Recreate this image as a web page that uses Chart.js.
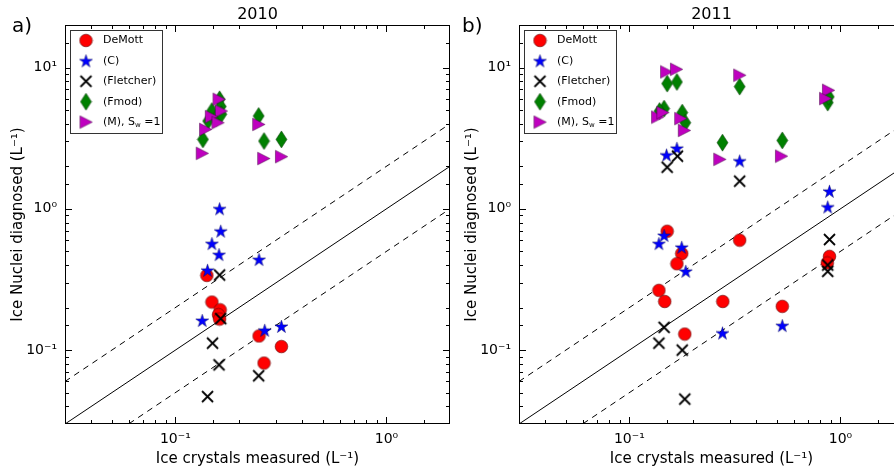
<!DOCTYPE html>
<html lang="en">
<head>
<meta charset="UTF-8">
<title>Ice Nuclei diagnosed vs Ice crystals measured</title>
<script src="https://cdn.jsdelivr.net/npm/chart.js"></script>
<style>
  html, body { margin:0; padding:0; overflow:hidden; background:#fff; width:894px; height:471px; }
  .panel { position:absolute; top:0; width:460px; height:471px; }
  #panelA { left:0; }
  #panelB { left:454px; }
</style>
</head>
<body>
<div class="panel" id="panelA"><canvas id="chartA" width="460" height="471"></canvas></div>
<div class="panel" id="panelB"><canvas id="chartB" width="460" height="471"></canvas></div>
<script>
// ---- data (L^-1) ----
const seriesLabels = ['DeMott', '(C)', '(Fletcher)', '(Fmod)', '(M), S_w =1'];

// 2010
const demottA_x = [0.141, 0.149, 0.163, 0.160, 0.162, 0.249, 0.318, 0.263];
const demottA_y = [0.338, 0.219, 0.193, 0.178, 0.166, 0.126, 0.106, 0.081];
const cA_x = [0.162, 0.164, 0.149, 0.161, 0.249, 0.142, 0.134, 0.265, 0.318];
const cA_y = [1.00, 0.694, 0.567, 0.474, 0.437, 0.367, 0.162, 0.138, 0.147];
const fletA_x = [0.162, 0.164, 0.150, 0.161, 0.248, 0.142];
const fletA_y = [0.340, 0.167, 0.112, 0.0787, 0.0658, 0.0469];
const fmodA_x = [0.135, 0.143, 0.149, 0.156, 0.162, 0.164, 0.165, 0.248, 0.263, 0.318];
const fmodA_y = [3.10, 4.18, 4.92, 4.40, 5.96, 5.30, 4.67, 4.54, 3.02, 3.10];
const mA_x = [0.161, 0.165, 0.148, 0.159, 0.139, 0.134, 0.248, 0.262, 0.318];
const mA_y = [5.96, 4.92, 4.49, 4.07, 3.65, 2.47, 3.96, 2.27, 2.34];

// 2011
const demottB_x = [0.151, 0.177, 0.168, 0.138, 0.147, 0.277, 0.333, 0.530, 0.887, 0.866, 0.183];
const demottB_y = [0.694, 0.482, 0.409, 0.265, 0.221, 0.221, 0.600, 0.204, 0.461, 0.414, 0.130];
const cB_x = [0.150, 0.168, 0.333, 0.887, 0.870, 0.146, 0.138, 0.177, 0.185, 0.530, 0.276];
const cB_y = [2.40, 2.68, 2.18, 1.33, 1.03, 0.647, 0.567, 0.534, 0.361, 0.149, 0.132];
const fletB_x = [0.151, 0.169, 0.333, 0.887, 0.870, 0.870, 0.146, 0.138, 0.178, 0.183];
const fletB_y = [1.97, 2.36, 1.57, 0.606, 0.361, 0.40, 0.145, 0.112, 0.100, 0.045];
const fmodB_x = [0.151, 0.168, 0.146, 0.139, 0.178, 0.184, 0.333, 0.276, 0.530, 0.870, 0.880];
const fmodB_y = [7.70, 7.90, 5.12, 4.92, 4.80, 4.07, 7.33, 2.94, 3.05, 5.65, 6.20];
const mB_x = [0.150, 0.167, 0.136, 0.144, 0.175, 0.182, 0.333, 0.268, 0.525, 0.877, 0.850];
const mB_y = [9.31, 9.72, 4.46, 4.80, 4.35, 3.59, 8.82, 2.24, 2.36, 6.90, 6.03];

// reference lines y = r * x, drawn across the axis range
const axisMin = 0.03, xMax = 2, yMax = 20;
const lineX = [axisMin, xMax];
const ratios = [1, 2, 0.5];

const FONT = "'DejaVu Sans', sans-serif";

// ---- marker images (matplotlib-like) ----
function marker(w, h, draw) {
  const c = document.createElement('canvas');
  c.width = w; c.height = h;
  draw(c.getContext('2d'), w, h);
  return c;
}
const mkCircle = marker(15, 15, (g) => {
  g.beginPath(); g.arc(7.5, 7.5, 6.3, 0, Math.PI * 2);
  g.fillStyle = '#ff0000'; g.fill();
  g.lineWidth = 0.6; g.strokeStyle = '#5a0000'; g.stroke();
});
const mkStar = marker(15, 15, (g) => {
  g.beginPath();
  for (let i = 0; i < 10; i++) {
    const r = i % 2 ? 2.6 : 6.8;
    const a = -Math.PI / 2 + i * Math.PI / 5;
    g.lineTo(7.5 + r * Math.cos(a), 8 + r * Math.sin(a));
  }
  g.closePath();
  g.fillStyle = '#0000ff'; g.fill();
  g.lineWidth = 0.5; g.strokeStyle = '#000060'; g.stroke();
});
const mkCross = marker(15, 15, (g) => {
  g.beginPath();
  g.moveTo(2, 2); g.lineTo(13, 13);
  g.moveTo(13, 2); g.lineTo(2, 13);
  g.lineWidth = 1.8; g.strokeStyle = '#000'; g.stroke();
});
const mkDiamond = marker(13, 19, (g) => {
  g.beginPath();
  g.moveTo(6.5, 1); g.lineTo(12, 9.5); g.lineTo(6.5, 18); g.lineTo(1, 9.5);
  g.closePath();
  g.fillStyle = '#008000'; g.fill();
  g.lineWidth = 0.5; g.strokeStyle = '#003000'; g.stroke();
});
const mkTriangle = marker(15, 15, (g) => {
  g.beginPath();
  g.moveTo(1.5, 1.2); g.lineTo(13.8, 7.5); g.lineTo(1.5, 13.8);
  g.closePath();
  g.fillStyle = '#bf00bf'; g.fill();
  g.lineWidth = 0.5; g.strokeStyle = '#400040'; g.stroke();
});
const markers = [mkCircle, mkStar, mkCross, mkDiamond, mkTriangle];

// ---- helpers ----
const supMap = { '-': '\u207B', '0': '\u2070', '1': '\u00B9', '2': '\u00B2', '3': '\u00B3' };
function tickLabel(v) {
  const e = Math.log10(v), r = Math.round(e);
  if (Math.abs(e - r) > 1e-6) return '';
  return '10' + String(r).split('').map(c => supMap[c]).join('');
}

function pts(xs, ys) { return xs.map((x, i) => ({ x, y: ys[i] })); }

function buildDatasets(groups) {
  const sets = ratios.map(r => ({
    label: 'ratio ' + r,
    data: lineX.map(x => ({ x, y: x * r })),
    showLine: true,
    borderColor: '#000',
    borderWidth: 1,
    borderDash: r === 1 ? [] : [6, 5],
    pointRadius: 0,
    order: 10
  }));
  groups.forEach(([xs, ys], i) => {
    sets.push({
      label: seriesLabels[i],
      data: pts(xs, ys),
      pointStyle: markers[i],
      pointRadius: 6,
      pointHoverRadius: 6,
      showLine: false,
      order: 5 - i,
      isMarker: true
    });
  });
  return sets;
}

// frame, inward ticks, title, panel letter, legend box
const decor = {
  id: 'decor',
  afterDraw(chart, args, o) {
    const { ctx, chartArea: a, scales } = chart;
    ctx.save();
    ctx.strokeStyle = '#000';
    ctx.lineWidth = 1;
    ctx.strokeRect(Math.round(a.left) + 0.5, Math.round(a.top) + 0.5,
      Math.round(a.right - a.left) - 1, Math.round(a.bottom - a.top) - 1);

    const isMajor = v => Math.abs(Math.log10(v) - Math.round(Math.log10(v))) < 1e-6;
    ctx.beginPath();
    scales.x.ticks.forEach(t => {
      const p = Math.round(scales.x.getPixelForValue(t.value)) + 0.5;
      if (p < a.left + 1 || p > a.right - 1) return;
      const len = isMajor(t.value) ? 7 : 4;
      ctx.moveTo(p, a.bottom); ctx.lineTo(p, a.bottom - len);
      ctx.moveTo(p, a.top); ctx.lineTo(p, a.top + len);
    });
    scales.y.ticks.forEach(t => {
      const p = Math.round(scales.y.getPixelForValue(t.value)) + 0.5;
      if (p < a.top + 1 || p > a.bottom - 1) return;
      const len = isMajor(t.value) ? 7 : 4;
      ctx.moveTo(a.left, p); ctx.lineTo(a.left + len, p);
      ctx.moveTo(a.right, p); ctx.lineTo(a.right - len, p);
    });
    ctx.stroke();

    ctx.fillStyle = '#000';
    ctx.textBaseline = 'middle';
    ctx.textAlign = 'center';
    ctx.font = '16px ' + FONT;
    ctx.fillText(o.title, (a.left + a.right) / 2, 15);
    ctx.textAlign = 'left';
    ctx.font = '20px ' + FONT;
    ctx.fillText(o.letter, o.letterX, 27);

    // legend
    const bx = a.left + 5, by = a.top + 5, bw = 92, bh = 103;
    ctx.fillStyle = '#fff';
    ctx.fillRect(bx, by, bw, bh);
    ctx.strokeStyle = '#333';
    ctx.strokeRect(bx + 0.5, by + 0.5, bw, bh);
    ctx.font = '11px ' + FONT;
    ctx.fillStyle = '#000';
    chart.data.datasets.filter(d => d.isMarker).forEach((d, i) => {
      const cy = by + 10.5 + i * 20.4;
      const img = d.pointStyle;
      ctx.drawImage(img, bx + 16 - img.width / 2, cy - img.height / 2);
      const tx = bx + 33;
      if (d.label.indexOf('S_w') >= 0) {
        const parts = d.label.split('S_w');
        ctx.fillText(parts[0] + 'S', tx, cy);
        let x2 = tx + ctx.measureText(parts[0] + 'S').width;
        ctx.font = '7px ' + FONT;
        ctx.fillText('w', x2, cy + 3);
        x2 += ctx.measureText('w').width;
        ctx.font = '11px ' + FONT;
        ctx.fillText(parts[1], x2, cy);
      } else {
        ctx.fillText(d.label, tx, cy);
      }
    });
    ctx.restore();
  }
};

function makeChart(id, groups, title, letter, letterX) {
  return new Chart(document.getElementById(id), {
    type: 'scatter',
    data: { datasets: buildDatasets(groups) },
    plugins: [decor],
    options: {
      responsive: false,
      animation: false,
      layout: { padding: { top: 25, right: 10, left: 0, bottom: 0 } },
      scales: {
        x: {
          type: 'logarithmic',
          min: axisMin, max: xMax,
          afterFit: s => { s.height = 47; },
          grid: { display: false, drawTicks: false },
          border: { display: false },
          ticks: {
            autoSkip: false, maxRotation: 0, padding: 7,
            color: '#000', font: { family: FONT, size: 14 },
            callback: v => tickLabel(v)
          },
          title: {
            display: true, text: 'Ice crystals measured (L\u207B\u00B9)',
            color: '#000', font: { family: FONT, size: 15 },
            padding: { top: 0, bottom: 3 }
          }
        },
        y: {
          type: 'logarithmic',
          min: axisMin, max: yMax,
          afterFit: s => { s.width = 65; },
          grid: { display: false, drawTicks: false },
          border: { display: false },
          ticks: {
            autoSkip: false, padding: 8,
            color: '#000', font: { family: FONT, size: 14 },
            callback: v => tickLabel(v)
          },
          title: {
            display: true, text: 'Ice Nuclei diagnosed (L\u207B\u00B9)',
            color: '#000', font: { family: FONT, size: 15 },
            padding: { top: 9, bottom: 0 }
          }
        }
      },
      plugins: {
        legend: { display: false },
        tooltip: { enabled: false },
        decor: { title, letter, letterX }
      }
    }
  });
}

makeChart('chartA', [
  [demottA_x, demottA_y], [cA_x, cA_y], [fletA_x, fletA_y], [fmodA_x, fmodA_y], [mA_x, mA_y]
], '2010', 'a)', 12);

makeChart('chartB', [
  [demottB_x, demottB_y], [cB_x, cB_y], [fletB_x, fletB_y], [fmodB_x, fmodB_y], [mB_x, mB_y]
], '2011', 'b)', 8);
</script>
</body>
</html>
